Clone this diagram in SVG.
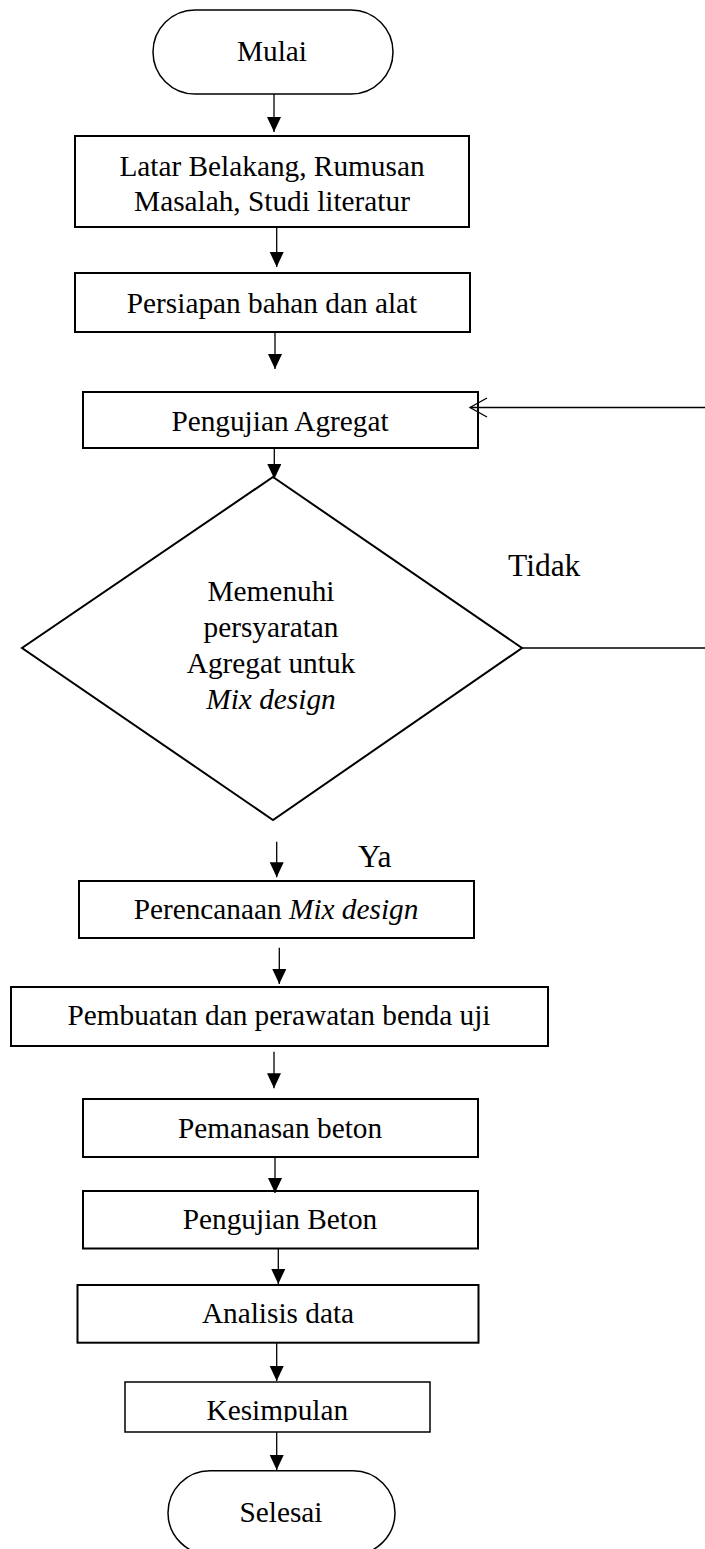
<svg xmlns="http://www.w3.org/2000/svg" width="705" height="1549" viewBox="0 0 705 1549">
<style>
.box{fill:#fff;stroke:#000;stroke-width:2}
.term{fill:#fff;stroke:#000;stroke-width:1.5}
.t{font-family:"Liberation Serif","Times New Roman",serif;font-size:29.3px;fill:#000;text-anchor:middle}
.lbl{font-family:"Liberation Serif","Times New Roman",serif;font-size:31.5px;fill:#000}
.c{fill:none;stroke:#000;stroke-width:1.3}
</style>
<defs>
<marker id="ah" markerUnits="userSpaceOnUse" markerWidth="16" markerHeight="16" refX="15" refY="7" orient="auto">
<path d="M0,0 L15,7 L0,14 z" fill="#000"/>
</marker>
<clipPath id="kclip"><rect x="120" y="1380" width="320" height="42"/></clipPath>
</defs>

<g id="mulai">
<rect class="term" x="153" y="10" width="240" height="84" rx="42" ry="42"/>
<text class="t" x="272" y="61">Mulai</text>
</g>
<g id="latar">
<rect class="box" x="75" y="136" width="394" height="91"/>
<text class="t" x="272" y="176">Latar Belakang, Rumusan</text>
<text class="t" x="272" y="211">Masalah, Studi literatur</text>
</g>
<g id="persiapan">
<rect class="box" x="75" y="273" width="395" height="59"/>
<text class="t" x="272" y="312.7">Persiapan bahan dan alat</text>
</g>
<g id="pengujian-agregat">
<rect class="box" x="83" y="392" width="395" height="56"/>
<text class="t" x="280" y="431">Pengujian Agregat</text>
</g>
<g id="keputusan">
<polygon class="box" points="273,477 522,648 273,820 22,648"/>
<text class="t" x="271" y="600.7">Memenuhi</text>
<text class="t" x="271" y="636.7">persyaratan</text>
<text class="t" x="271" y="673">Agregat untuk</text>
<text class="t" x="271" y="709" font-style="italic">Mix design</text>
</g>
<g id="perencanaan">
<rect class="box" x="79" y="881" width="395" height="57"/>
<text class="t" x="276" y="919">Perencanaan <tspan font-style="italic">Mix design</tspan></text>
</g>
<g id="pembuatan">
<rect class="box" x="11" y="987" width="537" height="59"/>
<text class="t" x="279" y="1025">Pembuatan dan perawatan benda uji</text>
</g>
<g id="pemanasan">
<rect class="box" x="83" y="1099" width="395" height="58"/>
<text class="t" x="280" y="1138.3">Pemanasan beton</text>
</g>
<g id="pengujian-beton">
<rect class="box" x="83" y="1191" width="395" height="57.5"/>
<text class="t" x="280" y="1229.3">Pengujian Beton</text>
</g>
<g id="analisis">
<rect class="box" x="77.5" y="1285" width="401" height="57.7"/>
<text class="t" x="278" y="1323.3">Analisis data</text>
</g>
<g id="kesimpulan">
<rect class="box" style="stroke-width:1.5" x="125" y="1382" width="305" height="50"/>
<text class="t" x="277.3" y="1420" clip-path="url(#kclip)">Kesimpulan</text>
</g>
<g id="selesai">
<rect class="term" x="168" y="1470.7" width="227" height="84" rx="42" ry="42"/>
<text class="t" x="281" y="1521.7">Selesai</text>
</g>

<g id="connectors">
<line class="c" x1="274" y1="94" x2="274" y2="132" marker-end="url(#ah)"/>
<line class="c" x1="276.7" y1="227" x2="276.7" y2="267" marker-end="url(#ah)"/>
<line class="c" x1="275" y1="332" x2="275" y2="369" marker-end="url(#ah)"/>
<line class="c" x1="274.3" y1="448" x2="274.3" y2="479" marker-end="url(#ah)"/>
<line class="c" x1="705" y1="407.5" x2="470" y2="407.5"/>
<polyline class="c" points="487,398 470,407.5 487,417"/>
<line class="c" x1="522" y1="648" x2="705" y2="648"/>
<line class="c" x1="276.7" y1="841.7" x2="276.7" y2="877.3" marker-end="url(#ah)"/>
<line class="c" x1="279.3" y1="947.7" x2="279.3" y2="984" marker-end="url(#ah)"/>
<line class="c" x1="274" y1="1051.7" x2="274" y2="1088.3" marker-end="url(#ah)"/>
<line class="c" x1="275" y1="1157" x2="275" y2="1193" marker-end="url(#ah)"/>
<line class="c" x1="278.3" y1="1248.3" x2="278.3" y2="1284" marker-end="url(#ah)"/>
<line class="c" x1="276.7" y1="1343" x2="276.7" y2="1381" marker-end="url(#ah)"/>
<line class="c" x1="276.7" y1="1432.3" x2="276.7" y2="1470" marker-end="url(#ah)"/>
</g>
<text class="lbl" x="508" y="575.7">Tidak</text>
<text class="lbl" x="358" y="866.7">Ya</text>
</svg>
